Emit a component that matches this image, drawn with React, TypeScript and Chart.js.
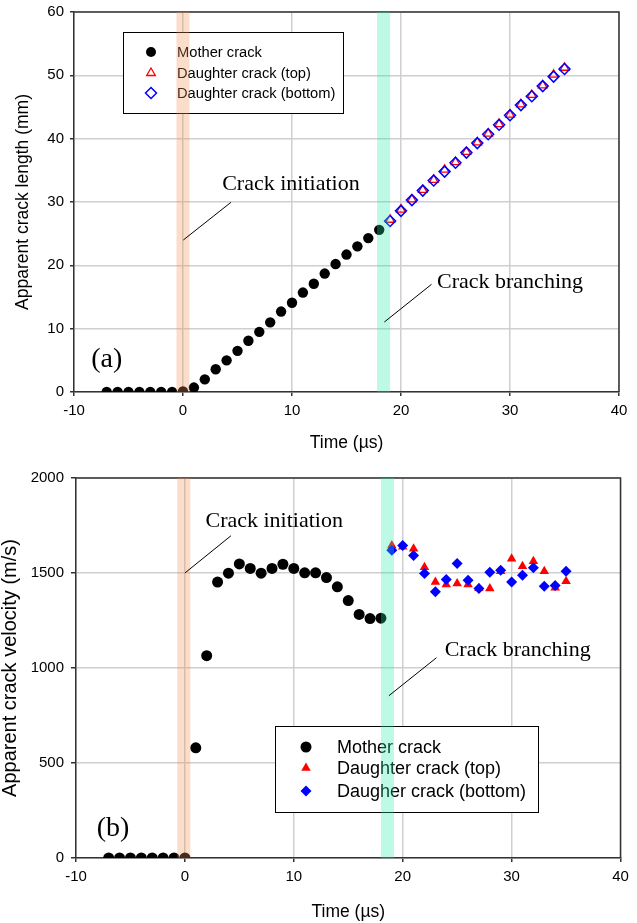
import React, { useEffect, useRef } from 'react';
import { Chart, registerables } from 'chart.js';

Chart.register(...registerables);

// ---------------- data ----------------
const motherTime = [-7, -6, -5, -4, -3, -2, -1, 0, 1, 2, 3, 4, 5, 6, 7, 8, 9, 10, 11, 12, 13, 14, 15, 16, 17, 18];
const daughterTime = [19, 20, 21, 22, 23, 24, 25, 26, 27, 28, 29, 30, 31, 32, 33, 34, 35];

const lengthMother = [0, 0, 0, 0, 0, 0, 0, 0.1, 0.7, 2.0, 3.6, 5.0, 6.5, 8.1, 9.5, 11.0, 12.7, 14.1, 15.7, 17.1, 18.7, 20.2, 21.7, 23.0, 24.3, 25.6];
const lengthTop = [27.2, 28.8, 30.4, 31.9, 33.5, 35.1, 36.3, 37.9, 39.4, 40.8, 42.3, 43.8, 45.4, 46.9, 48.4, 50.1, 51.2];
const lengthBottom = [27.0, 28.6, 30.3, 31.8, 33.4, 34.8, 36.2, 37.8, 39.3, 40.7, 42.2, 43.7, 45.3, 46.7, 48.3, 49.8, 51.0];

const velocityMother = [0, 0, 0, 0, 0, 0, 0, 0, 580, 1065, 1452, 1499, 1548, 1524, 1499, 1524, 1546, 1524, 1501, 1501, 1476, 1427, 1355, 1282, 1260, 1262];
const velocityTop = [1645, 1638, 1627, 1530, 1452, 1439, 1445, 1439, 1420, 1418, 1509, 1575, 1536, 1562, 1509, 1422, 1457];
const velocityBottom = [1620, 1645, 1592, 1497, 1401, 1466, 1550, 1462, 1418, 1504, 1515, 1452, 1488, 1527, 1430, 1434, 1509];

const timeTicks = [-10, 0, 10, 20, 30, 40];
const lengthTicks = [0, 10, 20, 30, 40, 50, 60];
const velocityTicks = [0, 500, 1000, 1500, 2000];

const legendLabelsA = ['Mother crack', 'Daughter crack (top)', 'Daughter crack (bottom)'];
const legendLabelsB = ['Mother crack', 'Daughter crack (top)', 'Daugher crack (bottom)'];

// event bands (time, µs)
const initiationBandA = [-0.6, 0.6];
const branchingBandA = [17.8, 19.0];
const initiationBandB = [-0.7, 0.5];
const branchingBandB = [18.0, 19.2];

const SANS = '"Liberation Sans", Arial, sans-serif';
const SERIF = '"Liberation Serif", "Times New Roman", serif';
const ORANGE = 'rgba(238,142,82,0.3)';
const CYAN = 'rgba(38,238,172,0.3)';

function pts(xs: number[], ys: number[]) {
  return xs.map((x, i) => ({ x, y: ys[i] }));
}

function marker(ctx: CanvasRenderingContext2D, style: string, x: number, y: number, r: number, fill: string | null, stroke: string, lw: number) {
  ctx.beginPath();
  if (style === 'circle') {
    ctx.arc(x, y, r, 0, Math.PI * 2);
  } else if (style === 'triangle') {
    for (let k = 0; k < 3; k++) {
      const a = -Math.PI / 2 + (k * 2 * Math.PI) / 3;
      const px = x + Math.cos(a) * r;
      const py = y + Math.sin(a) * r;
      if (k === 0) ctx.moveTo(px, py); else ctx.lineTo(px, py);
    }
    ctx.closePath();
  } else {
    ctx.moveTo(x, y - r); ctx.lineTo(x + r, y); ctx.lineTo(x, y + r); ctx.lineTo(x - r, y); ctx.closePath();
  }
  if (fill) { ctx.fillStyle = fill; ctx.fill(); }
  if (lw > 0) { ctx.strokeStyle = stroke; ctx.lineWidth = lw; ctx.stroke(); }
}

const overlayPlugin = {
  id: 'overlay',
  afterDatasetsDraw(chart: any, _args: any, o: any) {
    const { ctx, chartArea: ca, scales } = chart;
    const xs = scales.x, ys = scales.y;
    ctx.save();
    // frame top / right
    ctx.strokeStyle = '#333';
    ctx.lineWidth = 1.5;
    ctx.beginPath();
    ctx.moveTo(ca.left, ca.top);
    ctx.lineTo(ca.right, ca.top);
    ctx.lineTo(ca.right, ca.bottom);
    ctx.stroke();

    // legend
    const L = o.legend;
    ctx.fillStyle = '#fff';
    ctx.fillRect(ca.left + L.x, ca.top + L.y, L.w, L.h);
    ctx.strokeStyle = '#000';
    ctx.lineWidth = 1;
    ctx.strokeRect(ca.left + L.x + 0.5, ca.top + L.y + 0.5, L.w, L.h);
    chart.data.datasets.forEach((ds: any, i: number) => {
      const row = L.rows[i];
      const fill = ds.pointBackgroundColor === 'transparent' ? null : ds.pointBackgroundColor;
      marker(ctx, ds.pointStyle, ca.left + L.mx, ca.top + row, L.r[i], fill, ds.pointBorderColor, ds.pointBorderWidth);
      ctx.fillStyle = '#000';
      ctx.font = `${L.font}px ${SANS}`;
      ctx.textAlign = 'left';
      ctx.textBaseline = 'middle';
      ctx.fillText(o.labels[i], ca.left + L.tx, ca.top + row + 1);
    });

    // bands
    o.bands.forEach((b: any) => {
      const xa = xs.getPixelForValue(b.range[0]);
      const xb = xs.getPixelForValue(b.range[1]);
      ctx.fillStyle = b.color;
      ctx.fillRect(xa, ca.top, xb - xa, ca.bottom - ca.top);
    });

    // annotations
    o.notes.forEach((n: any) => {
      ctx.strokeStyle = '#000';
      ctx.lineWidth = 1;
      ctx.beginPath();
      ctx.moveTo(xs.getPixelForValue(n.line[0]), ys.getPixelForValue(n.line[1]));
      ctx.lineTo(xs.getPixelForValue(n.line[2]), ys.getPixelForValue(n.line[3]));
      ctx.stroke();
      ctx.fillStyle = '#000';
      ctx.font = `${n.size}px ${SERIF}`;
      ctx.textAlign = 'center';
      ctx.textBaseline = 'middle';
      ctx.fillText(n.text, xs.getPixelForValue(n.at[0]), ys.getPixelForValue(n.at[1]));
    });
    ctx.restore();
  },
};

function buildConfig(p: any) {
  const fixY = (s: any) => { s.width = p.yWidth; s.paddingTop = 0; s.paddingBottom = 0; };
  const fixX = (s: any) => { s.height = p.xHeight; s.paddingLeft = 0; s.paddingRight = 0; };
  return {
    type: 'scatter',
    data: {
      datasets: [
        {
          label: p.labels[0], data: pts(motherTime, p.mother), order: 2,
          pointStyle: 'circle', pointRadius: p.r[0], pointBackgroundColor: '#000', pointBorderColor: '#000', pointBorderWidth: 0,
        },
        {
          label: p.labels[1], data: pts(daughterTime, p.top), order: 1,
          pointStyle: 'triangle', pointRadius: p.r[1], pointBackgroundColor: p.hollow ? 'transparent' : '#ff0000',
          pointBorderColor: '#ff0000', pointBorderWidth: p.hollow ? 1.3 : 0,
        },
        {
          label: p.labels[2], data: pts(daughterTime, p.bottom), order: 0,
          pointStyle: 'rectRot', pointRadius: p.r[2], pointBackgroundColor: p.hollow ? 'transparent' : '#0000ff',
          pointBorderColor: '#0000ff', pointBorderWidth: p.hollow ? 1.5 : 0,
        },
      ],
    },
    options: {
      responsive: false,
      animation: false,
      devicePixelRatio: 1,
      layout: { padding: { left: 0, top: p.padTop, right: p.padRight, bottom: 0 } },
      plugins: {
        legend: { display: false },
        tooltip: { enabled: false },
        overlay: { legend: p.legend, labels: p.labels, bands: p.bands, notes: p.notes },
      },
      scales: {
        x: {
          type: 'linear', min: -10, max: 40,
          afterBuildTicks: (s: any) => { s.ticks = timeTicks.map((v) => ({ value: v })); },
          afterFit: fixX,
          grid: { color: '#cfcfcf', lineWidth: 1.5, tickColor: '#333', tickLength: 4, tickWidth: 1.5 },
          border: { color: '#333', width: 1.5 },
          ticks: { color: '#000', font: { family: SANS, size: 15 }, padding: 6, maxRotation: 0, callback: (v: any) => String(v) },
          title: { display: true, text: 'Time (µs)', color: '#000', font: { family: SANS, size: 17.5, lineHeight: 1 }, padding: { top: 0, bottom: p.xTitlePad } },
        },
        y: {
          type: 'linear', min: p.yMin, max: p.yMax,
          afterBuildTicks: (s: any) => { s.ticks = p.yTicks.map((v: number) => ({ value: v })); },
          afterFit: fixY,
          grid: { color: '#cfcfcf', lineWidth: 1.5, tickColor: '#333', tickLength: p.yTickLen, tickWidth: 1.5 },
          border: { color: '#333', width: 1.5 },
          ticks: { color: '#000', font: { family: SANS, size: 15 }, padding: p.yTickPad, callback: (v: any) => String(v) },
          title: { display: true, text: p.yTitle, color: '#000', font: { family: SANS, size: p.yTitleSize, lineHeight: 1 }, padding: { top: p.yTitlePad, bottom: 0 } },
        },
      },
    },
    plugins: [overlayPlugin],
  };
}

const panelA = {
  labels: legendLabelsA,
  mother: lengthMother, top: lengthTop, bottom: lengthBottom,
  hollow: true, r: [5.2, 5, 5.5],
  padTop: 12, padRight: 18, yWidth: 74, xHeight: 70,
  yMin: 0, yMax: 60, yTicks: lengthTicks, yTickLen: 4, yTickPad: 6,
  yTitle: 'Apparent crack length (mm)', yTitleSize: 17.5, yTitlePad: 14, xTitlePad: 10,
  legend: { x: 49, y: 20, w: 220, h: 81, mx: 77, tx: 103, rows: [40, 61, 81], r: [5, 5, 5.5], font: 14.7 },
  bands: [{ range: initiationBandA, color: ORANGE }, { range: branchingBandA, color: CYAN }],
  notes: [
    { text: 'Crack initiation', at: [9.9, 32.8], line: [0.03, 24.0, 4.4, 29.95], size: 22 },
    { text: 'Crack branching', at: [30.0, 17.4], line: [18.47, 11.05, 22.8, 17.0], size: 22 },
    { text: '(a)', at: [-7.0, 5.05], line: [0, 0, 0, 0], size: 28 },
  ],
};

const panelB = {
  labels: legendLabelsB,
  mother: velocityMother, top: velocityTop, bottom: velocityBottom,
  hollow: false, r: [5.5, 5.5, 5.5],
  padTop: 16, padRight: 16.5, yWidth: 76, xHeight: 65,
  yMin: 0, yMax: 2000, yTicks: velocityTicks, yTickLen: 5, yTickPad: 7,
  yTitle: 'Apparent crack velocity (m/s)', yTitleSize: 20, yTitlePad: 0, xTitlePad: 2,
  legend: { x: 199, y: 248, w: 263, h: 86, mx: 230, tx: 261, rows: [269, 290, 313], r: [5.5, 5.5, 5.5], font: 18 },
  bands: [{ range: initiationBandB, color: ORANGE }, { range: branchingBandB, color: CYAN }],
  notes: [
    { text: 'Crack initiation', at: [8.2, 1770], line: [0, 1500, 4.23, 1696], size: 22 },
    { text: 'Crack branching', at: [30.56, 1095], line: [18.73, 854, 23.1, 1054], size: 22 },
    { text: '(b)', at: [-6.6, 156], line: [0, 0, 0, 0], size: 28 },
  ],
};

function Panel({ cfg, height }: { cfg: any; height: number }) {
  const ref = useRef<HTMLCanvasElement | null>(null);
  useEffect(() => {
    if (!ref.current) return;
    const chart = new Chart(ref.current, buildConfig(cfg) as any);
    return () => chart.destroy();
  }, [cfg]);
  return <canvas ref={ref} width={637} height={height} style={{ display: 'block', width: 637, height }} />;
}

export default function App() {
  useEffect(() => {
    document.body.style.margin = '0';
  }, []);
  return (
    <div style={{ position: 'absolute', left: 0, top: 0, width: 637, height: 923, background: '#fff' }}>
      <Panel cfg={panelA} height={462} />
      <Panel cfg={panelB} height={461} />
    </div>
  );
}
